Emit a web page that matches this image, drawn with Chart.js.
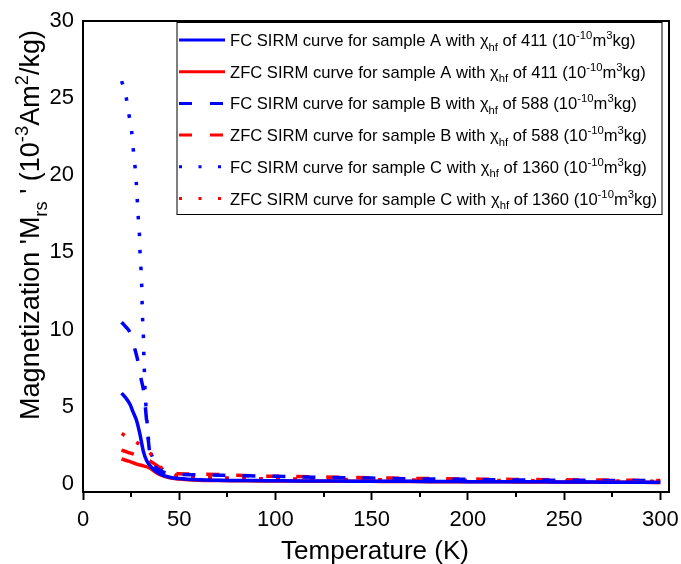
<!DOCTYPE html>
<html>
<head>
<meta charset="utf-8">
<script src="https://cdn.jsdelivr.net/npm/chart.js@4.4.1/dist/chart.umd.min.js"></script>
<style>
  html, body { margin: 0; padding: 0; background: #fff; }
</style>
</head>
<body>
<canvas id="chart" width="681" height="564"></canvas>
<script>
// tick values
const xTicks = [0, 50, 100, 150, 200, 250, 300];
const xMinorTicks = [25, 75, 125, 175, 225, 275];
const yTicks = [0, 5, 10, 15, 20, 25, 30];

// high temperature part, shared by all curves
const tailTemps = [50, 60, 70, 80, 90, 100, 110, 120, 130, 140, 150, 160, 170, 180, 190, 200, 210, 220, 230, 240, 250, 260, 270, 280, 290, 300];

// sample A
const fcATemp = [20, 22, 24.4, 26, 27.9, 29.6, 31.3, 33.1, 35.7, 40, 45].concat(tailTemps);
const fcAVal = [5.87, 5.6, 5.15, 4.65, 4.07, 3.2, 2.13, 1.49, 1.05, 0.63, 0.42,
    0.33, 0.25, 0.22, 0.21, 0.2, 0.19, 0.18, 0.18, 0.17, 0.16, 0.16, 0.15, 0.15, 0.14, 0.14, 0.13, 0.13, 0.12, 0.12, 0.12, 0.11, 0.11, 0.1, 0.1, 0.1, 0.09];
const zfcATemp = [20, 24, 27.9, 31.4, 34.8, 37, 40, 45].concat(tailTemps);
const zfcAVal = [1.6, 1.45, 1.27, 1.15, 1.0, 0.8, 0.58, 0.38,
    0.3, 0.22, 0.2, 0.19, 0.18, 0.17, 0.17, 0.16, 0.16, 0.15, 0.15, 0.14, 0.14, 0.13, 0.13, 0.12, 0.12, 0.12, 0.11, 0.11, 0.1, 0.1, 0.1, 0.09, 0.09, 0.08];

// sample B
const fcBTemp = [20, 22, 24.4, 27, 28.7, 30, 31.5, 32.3, 33.1, 33.8, 34.8, 37, 40, 45].concat(tailTemps);
const fcBVal = [10.47, 10.2, 9.8, 8.7, 7.85, 6.9, 6.0, 5.1, 4.0, 3.0, 1.9, 1.2, 0.85, 0.65,
    0.6, 0.58, 0.55, 0.52, 0.5, 0.48, 0.45, 0.42, 0.4, 0.38, 0.36, 0.34, 0.32, 0.3, 0.29, 0.28, 0.26, 0.25, 0.24, 0.23, 0.22, 0.22, 0.21, 0.2, 0.2, 0.19];
const zfcBTemp = [20, 23, 26.2, 30, 34, 37, 41, 45].concat(tailTemps);
const zfcBVal = [2.18, 2.05, 1.92, 1.75, 1.53, 1.3, 0.95, 0.75,
    0.65, 0.62, 0.6, 0.55, 0.5, 0.48, 0.47, 0.45, 0.42, 0.4, 0.38, 0.36, 0.34, 0.33, 0.32, 0.3, 0.29, 0.28, 0.27, 0.26, 0.25, 0.24, 0.23, 0.22, 0.21, 0.2];

// sample C
const fcCTemp = [20.1, 22.5, 23.9, 25.3, 26.1, 27, 27.7, 28.2, 28.7, 29.3, 29.6, 30.1, 30.5, 30.7, 31, 31.4, 31.6, 31.9, 32.2, 33, 34, 34.8, 37, 41, 45].concat(tailTemps);
const fcCVal = [26.1, 25.0, 23.9, 22.8, 21.7, 20.6, 19.5, 18.4, 17.3, 16.2, 15.1, 14.0, 12.9, 11.8, 10.6, 9.5, 8.4, 7.3, 6.2, 4.5, 2.9, 2.25, 1.5, 0.95, 0.6,
    0.45, 0.38, 0.35, 0.33, 0.3, 0.28, 0.27, 0.25, 0.24, 0.23, 0.22, 0.21, 0.2, 0.19, 0.18, 0.17, 0.16, 0.16, 0.15, 0.14, 0.14, 0.13, 0.12, 0.12, 0.11, 0.1];
const zfcCTemp = [20.1, 24, 27.9, 31.5, 34.8, 38, 41, 45].concat(tailTemps);
const zfcCVal = [3.25, 2.95, 2.67, 2.35, 2.0, 1.4, 1.0, 0.7,
    0.5, 0.42, 0.38, 0.35, 0.33, 0.31, 0.3, 0.29, 0.28, 0.27, 0.26, 0.25, 0.24, 0.23, 0.22, 0.22, 0.21, 0.2, 0.2, 0.19, 0.18, 0.18, 0.17, 0.17, 0.16, 0.15];

// legend text
const legendNames = ['FC SIRM curve for sample A with', 'ZFC SIRM curve for sample A with',
    'FC SIRM curve for sample B with', 'ZFC SIRM curve for sample B with',
    'FC SIRM curve for sample C with', 'ZFC SIRM curve for sample C with'];
const legendChi = ['411', '411', '588', '588', '1360', '1360'];

const BLUE = '#0000ff';
const RED = '#ff0000';
const FONT = 'Arial, "Liberation Sans", sans-serif';
const DASH = [13, 17];
const DOT = [3.5, 13.5];

function toPoints(temps, vals) {
    return temps.map((t, i) => ({x: t, y: vals[i]}));
}

function series(label, temps, vals, color, dash) {
    return {
        label: label,
        data: toPoints(temps, vals),
        borderColor: color,
        backgroundColor: color,
        borderWidth: 3.5,
        borderDash: dash,
        pointRadius: 0,
        fill: false,
        cubicInterpolationMode: 'monotone'
    };
}

// draws text with sub/superscript pieces, returns width
function drawRich(ctx, segs, x, y, size, measureOnly) {
    let cx = x;
    segs.forEach(s => {
        const fs = (s.sub || s.sup) ? size * 0.68 : size;
        ctx.font = fs + 'px ' + FONT;
        const dy = s.sub ? size * 0.28 : (s.sup ? -size * 0.42 : 0);
        if (!measureOnly) ctx.fillText(s.t, cx, y + dy);
        cx += ctx.measureText(s.t).width;
    });
    return cx - x;
}

const yTitle = [
    {t: "Magnetization 'M"}, {t: 'rs', sub: true}, {t: " ' (10"}, {t: '-3', sup: true},
    {t: 'Am'}, {t: '2', sup: true}, {t: '/kg)'}
];

const legendStyles = [
    {color: BLUE, dash: []}, {color: RED, dash: []},
    {color: BLUE, dash: [13, 18]}, {color: RED, dash: [13, 18]},
    {color: BLUE, dash: [3, 16.5]}, {color: RED, dash: [3, 16.5]}
];

const decorPlugin = {
    id: 'decor',
    afterDatasetsDraw(chart) {
        const ctx = chart.ctx;
        const a = chart.chartArea;
        const xs = chart.scales.x;
        ctx.save();
        // frame
        ctx.strokeStyle = '#000';
        ctx.lineWidth = 2;
        ctx.setLineDash([]);
        ctx.strokeRect(a.left, a.top, a.right - a.left, a.bottom - a.top);
        // minor ticks
        ctx.beginPath();
        xMinorTicks.forEach(v => {
            const px = Math.round(xs.getPixelForValue(v));
            ctx.moveTo(px, a.bottom);
            ctx.lineTo(px, a.bottom + 5);
        });
        ctx.stroke();

        // legend
        const lx = 177, ly = 22.5, lw = 485, lh = 192;
        ctx.fillStyle = '#fff';
        ctx.fillRect(lx, ly, lw, lh);
        ctx.lineWidth = 1;
        ctx.strokeRect(lx, ly, lw, lh);
        legendNames.forEach((name, i) => {
            const cy = 40 + i * 31.7;
            const st = legendStyles[i];
            ctx.strokeStyle = st.color;
            ctx.lineWidth = 3;
            ctx.setLineDash(st.dash);
            ctx.beginPath();
            ctx.moveTo(179, cy);
            ctx.lineTo(225, cy);
            ctx.stroke();
            ctx.setLineDash([]);
            ctx.fillStyle = '#000';
            ctx.textBaseline = 'alphabetic';
            ctx.textAlign = 'left';
            drawRich(ctx, [
                {t: name + ' '}, {t: 'χ'}, {t: 'hf', sub: true},
                {t: ' of ' + legendChi[i] + ' (10'}, {t: '-10', sup: true},
                {t: 'm'}, {t: '3', sup: true}, {t: 'kg)'}
            ], 230, cy + 6, 16.6);
        });

        // axis titles
        ctx.fillStyle = '#000';
        ctx.textAlign = 'left';
        ctx.textBaseline = 'alphabetic';
        ctx.font = '26px ' + FONT;
        const xt = 'Temperature (K)';
        const xw = ctx.measureText(xt).width;
        ctx.fillText(xt, 375 - xw / 2, 559);

        ctx.translate(39, 225);
        ctx.rotate(-Math.PI / 2);
        const yw = drawRich(ctx, yTitle, 0, 0, 27, true);
        drawRich(ctx, yTitle, -yw / 2, 0, 27);
        ctx.restore();
    }
};

new Chart(document.getElementById('chart'), {
    type: 'line',
    data: {
        datasets: [
            series('FC A', fcATemp, fcAVal, BLUE, []),
            series('ZFC A', zfcATemp, zfcAVal, RED, []),
            series('FC B', fcBTemp, fcBVal, BLUE, DASH),
            series('ZFC B', zfcBTemp, zfcBVal, RED, DASH),
            series('ZFC C', zfcCTemp, zfcCVal, RED, DOT),
            series('FC C', fcCTemp, fcCVal, BLUE, DOT)
        ]
    },
    options: {
        responsive: false,
        animation: false,
        devicePixelRatio: 1,
        layout: {padding: {left: 0, right: 12, top: 21, bottom: 0}},
        plugins: {legend: {display: false}, tooltip: {enabled: false}},
        scales: {
            x: {
                type: 'linear',
                min: 0,
                max: 304.5,
                afterBuildTicks: s => { s.ticks = xTicks.map(v => ({value: v})); },
                afterFit: s => { s.height = 72; s.paddingLeft = 0; s.paddingRight = 0; },
                ticks: {color: '#000', font: {size: 22, family: FONT}, padding: 7, maxRotation: 0, autoSkip: false},
                grid: {drawOnChartArea: false, color: '#000', tickLength: 8, tickWidth: 2},
                border: {display: false}
            },
            y: {
                type: 'linear',
                min: -0.54,
                max: 30,
                afterBuildTicks: s => { s.ticks = yTicks.map(v => ({value: v})); },
                afterFit: s => { s.width = 83; s.paddingTop = 0; s.paddingBottom = 0; },
                ticks: {color: '#000', font: {size: 22, family: FONT}, padding: 9},
                grid: {drawOnChartArea: false, drawTicks: false},
                border: {display: false}
            }
        }
    },
    plugins: [decorPlugin]
});
</script>
</body>
</html>
